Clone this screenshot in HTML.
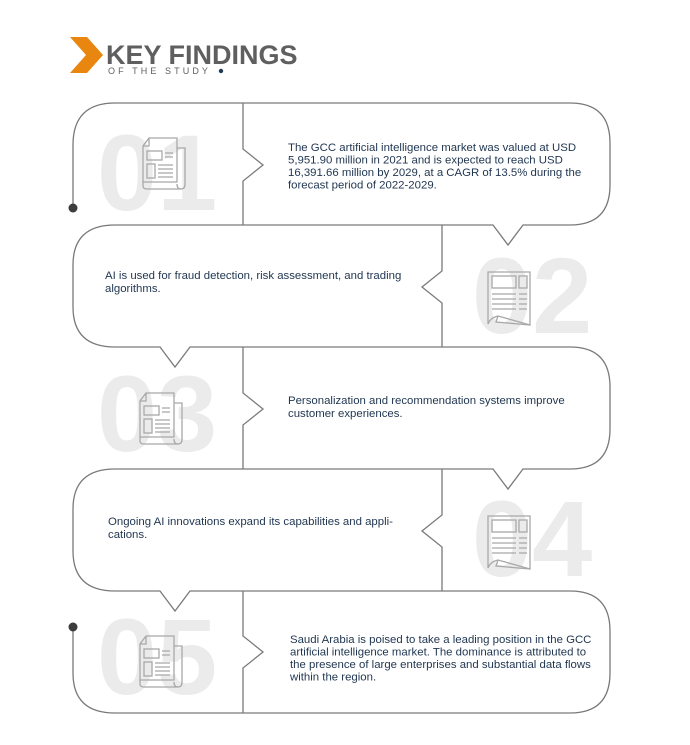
<!DOCTYPE html>
<html><head><meta charset="utf-8"><style>
html,body{margin:0;padding:0;background:#fff;}
svg{display:block;font-family:"Liberation Sans",sans-serif;}
.num{font-size:108px;font-weight:bold;fill:#ebebeb;}
.t{font-size:11.4px;fill:#1f3550;}
</style></head><body>
<svg width="690" height="745" viewBox="0 0 690 745" xmlns="http://www.w3.org/2000/svg">
<defs>
<g id="icA" fill="none" stroke="#a8a8a8" stroke-width="1.3">
  <path d="M10,0 H38 V44 H4 V8 Z M10,0 V8 H4"/>
  <path d="M38,10 H46 V46 Q46,51 42,51 Q38,51 38,46"/>
  <path d="M4,44 V48 Q4,51 8,51 H42"/>
  <rect x="8" y="13" width="15" height="9"/>
  <rect x="8" y="26" width="8" height="14"/>
  <path d="M26,15 H34 M26,19 H34 M19,27 H34 M19,31 H34 M19,35 H34 M19,39 H34"/>
</g>
<g id="icB" fill="none" stroke="#a8a8a8" stroke-width="1.3">
  <path d="M0,0 H42 V53 L10,44 Q2,46 0,52 Z"/>
  <path d="M10,44 L8,50 L42,53"/>
  <rect x="4" y="4" width="24" height="12"/>
  <rect x="31" y="4" width="8" height="12"/>
  <path d="M4,22 H28 M4,27 H28 M4,32 H28 M4,37 H28 M31,22 H39 M31,27 H39 M31,32 H39 M31,37 H39"/>
</g>
</defs>

<!-- header -->
<polygon points="70,37 87,37 103,55 87,73 70,73 86,55" fill="#e8860f"/>
<text x="106" y="64" font-size="27" font-weight="bold" fill="#5f5f5f">KEY FINDINGS</text>
<text x="108" y="74" font-size="9" letter-spacing="3.1" fill="#5f5f5f">OF THE STUDY</text>
<circle cx="221" cy="71" r="2.2" fill="#1f3a55"/>

<!-- big numbers -->
<text class="num" x="97" y="210">01</text>
<text class="num" x="472" y="333">02</text>
<text class="num" x="97" y="451">03</text>
<text class="num" x="472" y="576">04</text>
<text class="num" x="97" y="694">05</text>

<use href="#icA" x="139" y="138"/>
<use href="#icB" x="488" y="272"/>
<use href="#icA" x="136" y="393"/>
<use href="#icB" x="488" y="516"/>
<use href="#icA" x="136" y="636"/>

<!-- frame -->
<g fill="none" stroke="#7a7a7a" stroke-width="1.3">
<path d="M73,208 V145 Q73,103 115,103 H570 Q610,103 610,143 V185 Q610,225 570,225 H523 L508,245 L493,225 H115 Q73,225 73,265 V307 Q73,347 115,347 H160 L175,367 L190,347 H570 Q610,347 610,387 V429 Q610,469 570,469 H523 L508,489 L493,469 H115 Q73,469 73,509 V551 Q73,591 115,591 H160 L175,611 L190,591 H570 Q610,591 610,631 V673 Q610,713 570,713 H115 Q73,713 73,673 V627"/>
<path d="M243,103 V149 L263,165 L243,181 V225"/>
<path d="M442,225 V271 L422,287 L442,303 V347"/>
<path d="M243,347 V393 L263,409 L243,425 V469"/>
<path d="M442,469 V515 L422,531 L442,547 V591"/>
<path d="M243,591 V636 L263,652 L243,668 V713"/>
</g>
<circle cx="73" cy="208" r="4.5" fill="#3c3c3c"/>
<circle cx="73" cy="627" r="4.5" fill="#3c3c3c"/>

<!-- texts -->
<text class="t"><tspan x="288" y="151">The GCC artificial intelligence market was valued at USD</tspan><tspan x="288" y="163.5">5,951.90 million in 2021 and is expected to reach USD</tspan><tspan x="288" y="176">16,391.66 million by 2029, at a CAGR of 13.5% during the</tspan><tspan x="288" y="188.5">forecast period of 2022-2029.</tspan></text>
<text class="t"><tspan x="105" y="279">AI is used for fraud detection, risk assessment, and trading</tspan><tspan x="105" y="292">algorithms.</tspan></text>
<text class="t"><tspan x="288" y="404">Personalization and recommendation systems improve</tspan><tspan x="288" y="417">customer experiences.</tspan></text>
<text class="t"><tspan x="108" y="525">Ongoing AI innovations expand its capabilities and appli-</tspan><tspan x="108" y="538">cations.</tspan></text>
<text class="t"><tspan x="290" y="643">Saudi Arabia is poised to take a leading position in the GCC</tspan><tspan x="290" y="655.5">artificial intelligence market. The dominance is attributed to</tspan><tspan x="290" y="668">the presence of large enterprises and substantial data flows</tspan><tspan x="290" y="680.5">within the region.</tspan></text>
</svg>
</body></html>
